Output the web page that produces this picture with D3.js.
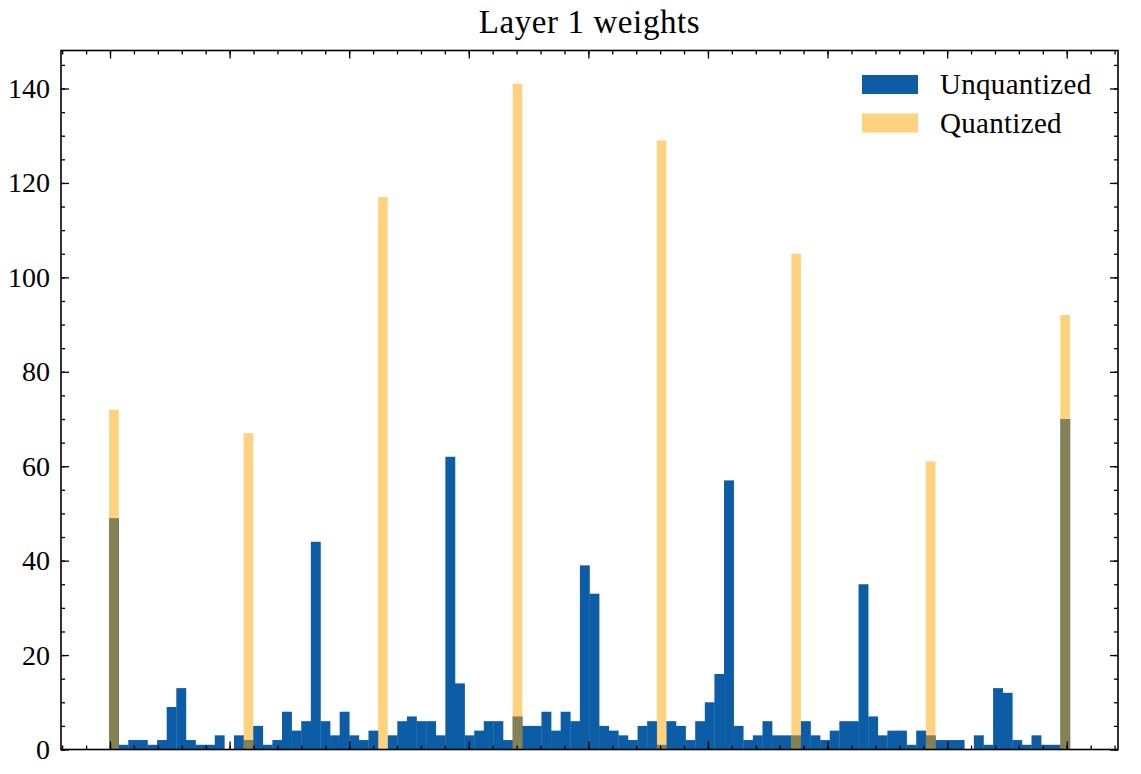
<!DOCTYPE html>
<html>
<head>
<meta charset="utf-8">
<script src="https://cdnjs.cloudflare.com/ajax/libs/d3/7.8.5/d3.min.js"></script>
<style>
  body { margin: 0; background: #fff; }
  text { font-family: "Liberation Serif", "DejaVu Serif", serif; fill: #000; }
</style>
</head>
<body>
<div id="chart"></div>
<script>
// histogram of layer 1 weights, 100 bins over [xMin, xMax]
var xMin = -0.4008, xMax = 0.4027, nBins = 100;

// unquantized counts, one per bin
var unquantized = [
  49, 1, 2, 2, 1, 2, 9, 13, 2, 1,
  1, 3, 0, 3, 2, 5, 1, 2, 8, 4,
  6, 44, 6, 3, 8, 3, 2, 4, 0, 3,
  6, 7, 6, 6, 3, 62, 14, 3, 4, 6,
  6, 2, 7, 5, 5, 8, 4, 8, 6, 39,
  33, 5, 4, 3, 2, 5, 6, 1, 6, 5,
  2, 6, 10, 16, 57, 5, 2, 3, 6, 3,
  3, 3, 6, 3, 2, 4, 6, 6, 35, 7,
  3, 4, 4, 1, 4, 3, 2, 2, 2, 0,
  3, 1, 13, 12, 2, 1, 3, 1, 1, 70
];

// quantized weights only land in these bins
var quantBins = [0, 14, 28, 42, 57, 71, 85, 99];
var quantCounts = [72, 67, 117, 141, 129, 105, 61, 92];

var seriesNames = ["Unquantized", "Quantized"];
var yMajorTicks = [0, 20, 40, 60, 80, 100, 120, 140];

var W = 1141, H = 774;
var pLeft = 61, pRight = 1118, pTop = 50.5, pBottom = 749.5;

var svg = d3.select("#chart").append("svg")
  .attr("width", W)
  .attr("height", H);

var pad = (xMax - xMin) * 0.05;
var x = d3.scaleLinear().domain([xMin - pad, xMax + pad]).range([pLeft, pRight]);
var yMaxVal = d3.max(quantCounts.concat(unquantized)) * 1.05;
var y = d3.scaleLinear().domain([0, yMaxVal]).range([pBottom, pTop]);

var binW = (xMax - xMin) / nBins;
function edge(i) { return xMin + i * binW; }

// blue bars
svg.append("g")
  .selectAll("rect")
  .data(unquantized)
  .enter()
  .append("rect")
    .attr("x", function(d, i) { return x(edge(i)); })
    .attr("width", function(d, i) { return x(edge(i + 1)) - x(edge(i)) + 0.3; })
    .attr("y", function(d) { return y(d); })
    .attr("height", function(d) { return y(0) - y(d); })
    .attr("fill", "#0C5DA5");

// orange bars, half transparent on top
svg.append("g")
  .selectAll("rect")
  .data(quantCounts)
  .enter()
  .append("rect")
    .attr("x", function(d, i) { return x(edge(quantBins[i])); })
    .attr("width", function(d, i) { return x(edge(quantBins[i] + 1)) - x(edge(quantBins[i])); })
    .attr("y", function(d) { return y(d); })
    .attr("height", function(d) { return y(0) - y(d); })
    .attr("fill", "#FFA500")
    .attr("fill-opacity", 0.5);

// ticks
var xMajor = d3.range(-4, 5).map(function(k) { return k / 10; });
var xMinor = d3.range(-22, 23).map(function(k) { return k / 50; })
  .filter(function(v) { return v > x.domain()[0] && v < x.domain()[1]; });
var yMinor = d3.range(0, 149, 5);

function styleAxis(g) {
  g.select(".domain").remove();
  g.selectAll("line").attr("stroke", "#000").attr("stroke-width", 1.3);
}

// bottom / top
svg.append("g").attr("transform", "translate(0," + pBottom + ")")
  .call(d3.axisBottom(x).tickValues(xMinor).tickSize(-4).tickFormat("")).call(styleAxis);
svg.append("g").attr("transform", "translate(0," + pBottom + ")")
  .call(d3.axisBottom(x).tickValues(xMajor).tickSize(-8).tickFormat("")).call(styleAxis);
svg.append("g").attr("transform", "translate(0," + pTop + ")")
  .call(d3.axisTop(x).tickValues(xMinor).tickSize(-4).tickFormat("")).call(styleAxis);
svg.append("g").attr("transform", "translate(0," + pTop + ")")
  .call(d3.axisTop(x).tickValues(xMajor).tickSize(-8).tickFormat("")).call(styleAxis);

// left / right
svg.append("g").attr("transform", "translate(" + pLeft + ",0)")
  .call(d3.axisLeft(y).tickValues(yMinor).tickSize(-4).tickFormat("")).call(styleAxis);
var yAx = svg.append("g").attr("transform", "translate(" + pLeft + ",0)")
  .call(d3.axisLeft(y).tickValues(yMajorTicks).tickSize(-8).tickPadding(11)).call(styleAxis);
yAx.selectAll("text")
  .style("font-family", "'Liberation Serif', 'DejaVu Serif', serif")
  .style("font-size", "28px")
  .attr("fill", "#000");
svg.append("g").attr("transform", "translate(" + pRight + ",0)")
  .call(d3.axisRight(y).tickValues(yMinor).tickSize(-4).tickFormat("")).call(styleAxis);
svg.append("g").attr("transform", "translate(" + pRight + ",0)")
  .call(d3.axisRight(y).tickValues(yMajorTicks).tickSize(-8).tickFormat("")).call(styleAxis);

// frame
svg.append("rect")
  .attr("x", pLeft).attr("y", pTop)
  .attr("width", pRight - pLeft).attr("height", pBottom - pTop)
  .attr("fill", "none")
  .attr("stroke", "#000")
  .attr("stroke-width", 1.6);

// title
svg.append("text")
  .attr("x", (pLeft + pRight) / 2)
  .attr("y", 33)
  .attr("text-anchor", "middle")
  .style("font-size", "33px")
  .style("letter-spacing", "0.6px")
  .text("Layer 1 weights");

// legend
var legColors = [{c: "#0C5DA5", o: 1}, {c: "#FFA500", o: 0.5}];
var leg = svg.append("g").selectAll("g")
  .data(seriesNames)
  .enter()
  .append("g")
    .attr("transform", function(d, i) { return "translate(862," + (75 + i * 38.5) + ")"; });
leg.append("rect")
  .attr("width", 56).attr("height", 19)
  .attr("fill", function(d, i) { return legColors[i].c; })
  .attr("fill-opacity", function(d, i) { return legColors[i].o; });
leg.append("text")
  .attr("x", 78)
  .attr("y", 19)
  .style("font-size", "29px")
  .style("letter-spacing", "0.3px")
  .text(function(d) { return d; });
</script>
</body>
</html>
